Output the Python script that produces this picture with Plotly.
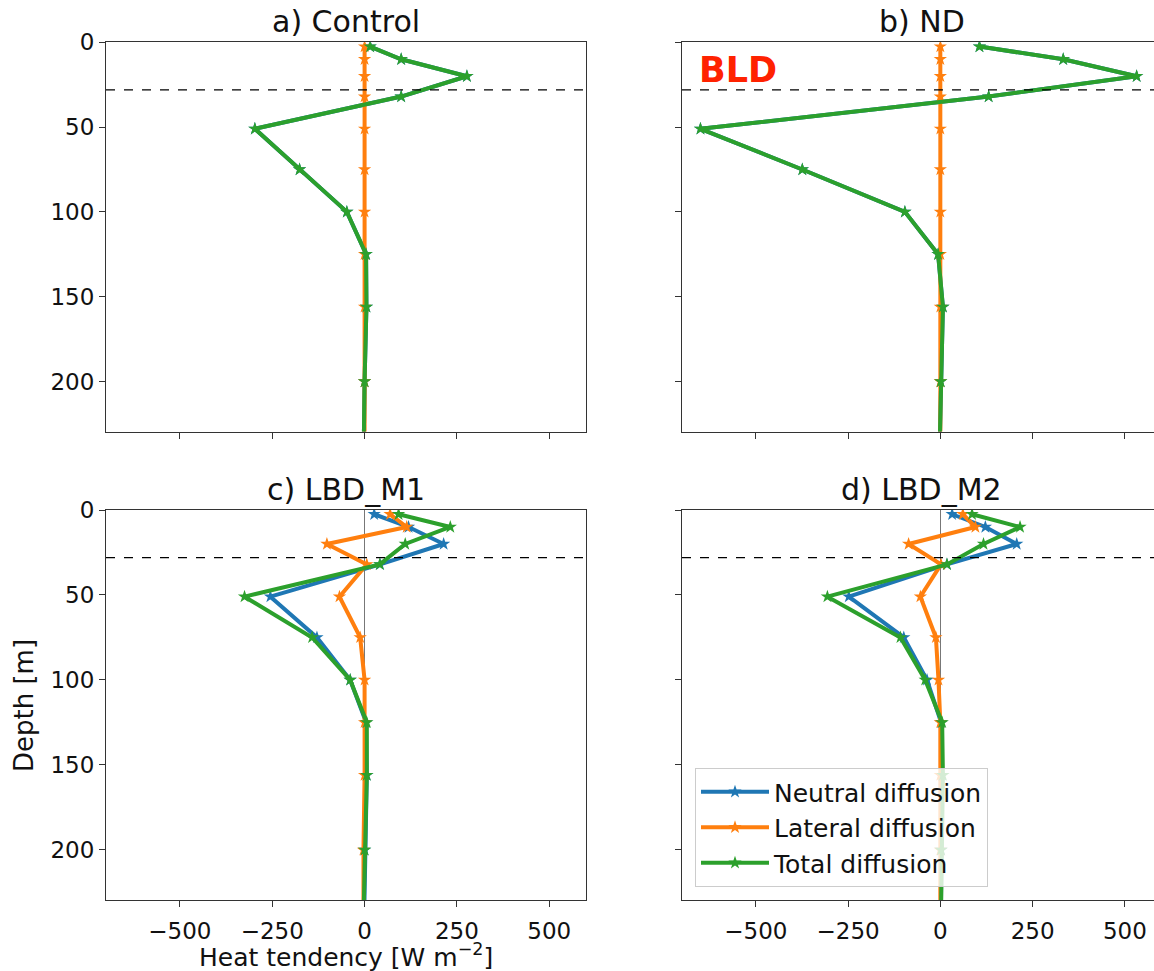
import plotly.graph_objects as go

# ---------------- data ----------------
depth = [2.5, 10, 20, 32, 51, 75, 100, 125, 156, 200, 250]

panel_titles = ["a) Control", "b) ND", "c) LBD_M1", "d) LBD_M2"]
series_names = ["Neutral diffusion", "Lateral diffusion", "Total diffusion"]

# a) Control
a_neutral = [15, 99, 277, 99, -297, -176, -48, 4, 5, 0, -3]
a_lateral = [0, 0, 0, 0, 0, 0, 0, 0, 0, 0, 0]
a_total = [15, 99, 277, 99, -297, -176, -48, 4, 5, 0, -3]

# b) ND
b_neutral = [106, 333, 532, 131, -650, -374, -96, -6, 7, 1, -3]
b_lateral = [0, 0, 0, 0, 0, 0, 0, 0, 0, 0, 0]
b_total = [106, 333, 532, 131, -650, -374, -96, -6, 7, 1, -3]

# c) LBD_M1
c_neutral = [26, 119, 214, 42, -255, -129, -39, 4, 6, 0, -2]
c_lateral = [69, 114, -102, 6, -68, -12, 0, 0, 0, -3, -3]
c_total = [92, 232, 110, 41, -325, -142, -39, 6, 6, 0, -4]

# d) LBD_M2
d_neutral = [32, 122, 207, 18, -248, -99, -36, 2, 5, 2, 1]
d_lateral = [61, 95, -86, 2, -54, -12, -5, 0, 0, 0, 0]
d_total = [86, 216, 117, 18, -306, -108, -41, 5, 7, 2, 1]

bld_depth = 28

x_ticks = [-500, -250, 0, 250, 500]
y_ticks = [0, 50, 100, 150, 200]

panel_data = [
    (a_neutral, a_lateral, a_total),
    (b_neutral, b_lateral, b_total),
    (c_neutral, c_lateral, c_total),
    (d_neutral, d_lateral, d_total),
]

colors = ["#1f77b4", "#ff7f0e", "#2ca02c"]

# ---------------- layout geometry (pixels) ----------------
W, H = 1154, 971
left_x = (106, 585.5)
right_x = (682, 1154)
top_y = (42.3, 431.5)
bot_y = (510, 900)

def xdom(p):
    return [p[0] / W, p[1] / W]

def ydom(p):
    return [1 - p[1] / H, 1 - p[0] / H]

domains = [
    (xdom(left_x), ydom(top_y)),
    (xdom(right_x), ydom(top_y)),
    (xdom(left_x), ydom(bot_y)),
    (xdom(right_x), ydom(bot_y)),
]
x_ranges = [[-700, 598], [-700, 579], [-700, 598], [-700, 579]]
y_range = [229.5, 0]

FONT = "DejaVu Sans"
TXT = "#111111"

fig = go.Figure()

for i, vals in enumerate(panel_data):
    ax = "" if i == 0 else str(i + 1)
    for j, (name, v) in enumerate(zip(series_names, vals)):
        fig.add_trace(go.Scatter(
            x=v, y=depth, mode="lines+markers", name=name,
            line=dict(color=colors[j], width=4),
            marker=dict(symbol="star", size=10, color=colors[j], line=dict(width=0)),
            xaxis="x" + ax, yaxis="y" + ax,
            showlegend=(i == 3), legendrank=j,
        ))

layout = dict(
    width=W, height=H,
    margin=dict(l=0, r=0, t=0, b=0, autoexpand=False),
    paper_bgcolor="white", plot_bgcolor="white",
    font=dict(family=FONT, size=23, color=TXT),
    showlegend=True,
    legend=dict(
        x=695 / W, y=1 - 768 / H, xanchor="left", yanchor="top",
        bgcolor="rgba(255,255,255,0.8)", bordercolor="#cccccc", borderwidth=1,
        font=dict(family=FONT, size=25, color=TXT),
        tracegroupgap=0, itemwidth=68,
    ),
)

for i in range(4):
    ax = "" if i == 0 else str(i + 1)
    xd, yd = domains[i]
    is_left = i in (0, 2)
    is_bottom = i in (2, 3)
    layout["xaxis" + ax] = dict(
        domain=xd, range=x_ranges[i], anchor="y" + ax, automargin=False,
        tickvals=x_ticks, ticks="outside", ticklen=6, tickwidth=1, tickcolor="#333333",
        showticklabels=is_bottom, tickfont=dict(size=23, color=TXT),
        showline=True, linecolor="#333333", linewidth=1.2, mirror=True,
        showgrid=False, zeroline=True, zerolinecolor="#777777", zerolinewidth=1,
        ticklabelstandoff=4,
    )
    layout["yaxis" + ax] = dict(
        domain=yd, range=y_range, anchor="x" + ax, automargin=False,
        tickvals=y_ticks, ticks="outside", ticklen=6, tickwidth=1, tickcolor="#333333",
        showticklabels=is_left, tickfont=dict(size=23, color=TXT),
        showline=True, linecolor="#333333", linewidth=1.2, mirror=is_left,
        showgrid=False, zeroline=False,
    )

fig.update_layout(**layout)

# BLD dashed lines
for i in range(4):
    ax = "" if i == 0 else str(i + 1)
    fig.add_shape(type="line", xref="x" + ax + " domain", yref="y" + ax,
                  x0=0, x1=1, y0=bld_depth, y1=bld_depth,
                  line=dict(color="black", width=1.2, dash="dash"), layer="above")

# Panel titles
for i, t in enumerate(panel_titles):
    xd, yd = domains[i]
    cx = (xd[0] + xd[1]) / 2 if i in (0, 2) else (682 + 1161) / 2 / W
    fig.add_annotation(text=t, x=cx, y=yd[1], xref="paper", yref="paper",
                       xanchor="center", yanchor="bottom", yshift=1, showarrow=False,
                       font=dict(family=FONT, size=30, color=TXT))

# BLD label
fig.add_annotation(text="<b>BLD</b>", x=697 / W, y=1 - 70 / H, xref="paper", yref="paper",
                   xanchor="left", yanchor="middle", showarrow=False,
                   font=dict(family=FONT, size=35, color="#ff2200"))

# Axis labels
fig.add_annotation(text="Heat tendency [W m<sup>−2</sup>]", x=(left_x[0] + left_x[1]) / 2 / W,
                   y=1 - 955 / H, xref="paper", yref="paper", xanchor="center", yanchor="middle",
                   showarrow=False, font=dict(family=FONT, size=25, color=TXT))
fig.add_annotation(text="Depth [m]", x=24 / W, y=1 - 706 / H, xref="paper", yref="paper",
                   xanchor="center", yanchor="middle", textangle=-90,
                   showarrow=False, font=dict(family=FONT, size=26, color=TXT))

fig.write_html(
    "out.html",
    config={"displayModeBar": False},
    post_script="document.body.style.margin='0';document.body.style.overflow='hidden';",
)
